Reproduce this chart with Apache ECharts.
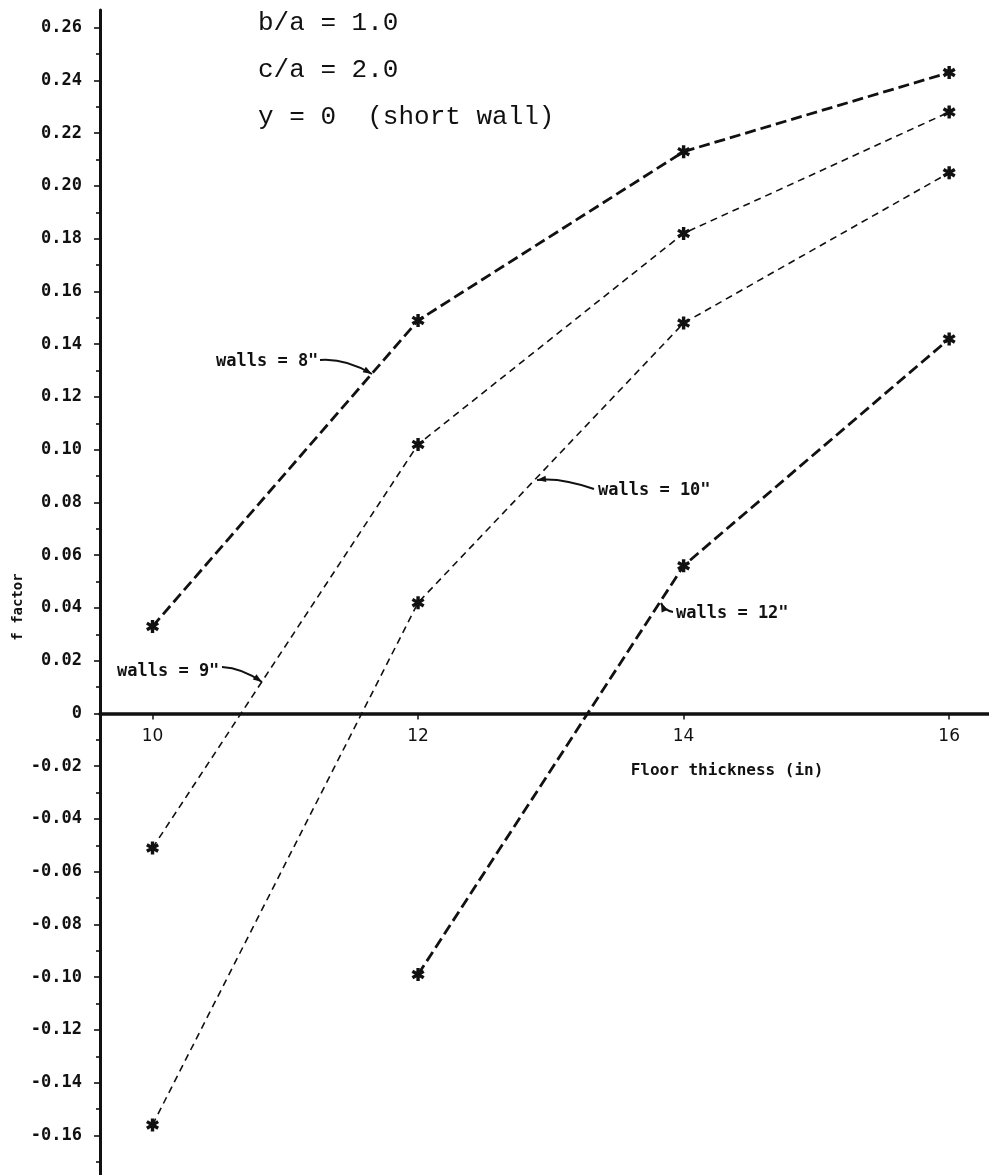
<!DOCTYPE html>
<html><head><meta charset="utf-8">
<script src="https://cdn.jsdelivr.net/npm/echarts@6/dist/echarts.min.js"></script>
<style>html,body{margin:0;padding:0;background:#fff}#c{width:989px;height:1175px}</style>
</head><body><div id="c"></div>
<script>
// ---- data ----
const floorThickness = [10, 12, 14, 16];
const walls8  = [0.033, 0.149, 0.213, 0.243];
const walls9  = [-0.051, 0.102, 0.182, 0.228];
const walls10 = [-0.156, 0.042, 0.148, 0.205];
const walls12 = [null, -0.099, 0.056, 0.142];
const yTickLabels = [0.26, 0.24, 0.22, 0.20, 0.18, 0.16, 0.14, 0.12, 0.10, 0.08, 0.06, 0.04, 0.02, 0,
  -0.02, -0.04, -0.06, -0.08, -0.10, -0.12, -0.14, -0.16];
const yMinorTicks = [0.25, 0.23, 0.21, 0.19, 0.17, 0.15, 0.13, 0.11, 0.09, 0.07, 0.05, 0.03, 0.01,
  -0.01, -0.03, -0.05, -0.07, -0.09, -0.11, -0.13, -0.15, -0.17];
const xTickLabels = [10, 12, 14, 16];
const notes = ['b/a = 1.0', 'c/a = 2.0', 'y = 0  (short wall)'];

const INK = '#111';
const MONO = '"DejaVu Sans Mono", monospace';
const Y_MIN = -0.175, Y_MAX = 0.2667, GRID_TOP = 10, GRID_H = 1165;
const pairs = arr => floorThickness.map((x, i) => [x, arr[i]]).filter(p => p[1] !== null);
const STAR = 'path://M3.7 0H6.3V10H3.7Z M8.65 1.35L9.95 3.6L1.35 8.65L0.05 6.4Z M9.95 6.4L8.65 8.65L0.05 3.6L1.35 1.35Z';

function mkSeries(name, arr, width, dash) {
  return {
    name, type: 'line', data: pairs(arr), yAxisIndex: 0,
    symbol: STAR, symbolSize: [13, 13], showSymbol: true,
    itemStyle: { color: INK },
    lineStyle: { color: INK, width, type: dash },
    animation: false, silent: true
  };
}

function arrow(x1, y1, cx, cy, x2, y2) {
  let dx = x2 - cx, dy = y2 - cy; const L = Math.hypot(dx, dy); dx /= L; dy /= L;
  const bx = x2 - dx * 9, by = y2 - dy * 9, nx = -dy * 3.2, ny = dx * 3.2;
  return [
    { type: 'bezierCurve', shape: { x1, y1, cpx1: cx, cpy1: cy, x2, y2 }, style: { stroke: INK, lineWidth: 2, fill: null } },
    { type: 'polygon', shape: { points: [[x2, y2], [bx + nx, by + ny], [bx - nx, by - ny]] }, style: { fill: INK } }
  ];
}
function label(text, x, y, size) {
  return { type: 'text', x, y, style: { text, fill: INK, font: 'bold ' + size + 'px ' + MONO, align: 'left', verticalAlign: 'middle' } };
}

const graphics = [
  ...notes.map((t, i) => ({ type: 'text', x: 258, y: 23 + i * 47, style: { text: t, fill: INK, font: '26px "Liberation Mono", monospace', align: 'left', verticalAlign: 'middle' } })),
  { type: 'text', x: 18, y: 607, rotation: Math.PI / 2, style: { text: 'f factor', fill: INK, font: 'bold 14px ' + MONO, align: 'center', verticalAlign: 'middle' } },
  { type: 'text', x: 727, y: 771, style: { text: 'Floor thickness (in)', fill: INK, font: 'bold 16px ' + MONO, align: 'center', verticalAlign: 'middle' } },
  label('walls = 8"', 216, 362, 17),
  ...arrow(320, 360, 345, 358, 372, 374),
  label('walls = 9"', 117, 672, 17),
  ...arrow(222, 667, 242, 668, 262, 682),
  label('walls = 10"', 598, 491, 17),
  ...arrow(594, 489, 560, 477, 537, 480),
  label('walls = 12"', 676, 614, 17),
  ...arrow(673, 612, 664, 610, 661, 603)
];

// pixel of y = 0, used to put the x axis through zero
const zeroPx = GRID_TOP + (Y_MAX - 0) / (Y_MAX - Y_MIN) * GRID_H;
const xOffset = -(GRID_TOP + GRID_H - zeroPx);

const chart = echarts.init(document.getElementById('c'), null, { renderer: 'canvas' });
chart.setOption({
  backgroundColor: '#fff',
  animation: false,
  grid: { left: 100, right: 0, top: GRID_TOP, height: GRID_H, containLabel: false, outerBoundsMode: 'none' },
  xAxis: {
    type: 'value', min: 9.6045, max: 16.3, position: 'bottom', offset: xOffset,
    axisLine: { onZero: false, lineStyle: { color: INK, width: 3.5 } },
    axisTick: { show: true, customValues: xTickLabels, length: 6, lineStyle: { color: INK, width: 1.5 } },
    axisLabel: { customValues: xTickLabels, margin: 15, color: INK, fontSize: 17, fontFamily: '"DejaVu Sans", sans-serif' },
    splitLine: { show: false }
  },
  yAxis: [{
    type: 'value', min: Y_MIN, max: Y_MAX,
    axisLine: { show: true, onZero: false, lineStyle: { color: INK, width: 3 } },
    axisTick: { show: true, customValues: yTickLabels, length: 6, lineStyle: { color: INK, width: 1.6 } },
    axisLabel: { customValues: yTickLabels, margin: 18, color: INK, fontSize: 17, fontWeight: 'bold', fontFamily: MONO,
      formatter: v => (Math.abs(v) < 1e-9 ? '0' : v.toFixed(2)) },
    splitLine: { show: false }
  }, {
    type: 'value', min: Y_MIN, max: Y_MAX, position: 'left', offset: 0,
    axisLine: { show: false, onZero: false },
    axisTick: { show: true, customValues: yMinorTicks, length: 4, lineStyle: { color: INK, width: 1.6 } },
    axisLabel: { show: false, customValues: yMinorTicks },
    splitLine: { show: false }
  }],
  series: [
    mkSeries('walls = 8"', walls8, 2.8, [11, 5]),
    mkSeries('walls = 9"', walls9, 1.6, [7, 5]),
    mkSeries('walls = 10"', walls10, 1.6, [7, 5]),
    mkSeries('walls = 12"', walls12, 2.8, [11, 5])
  ],
  graphic: graphics
});
</script>
</body></html>
